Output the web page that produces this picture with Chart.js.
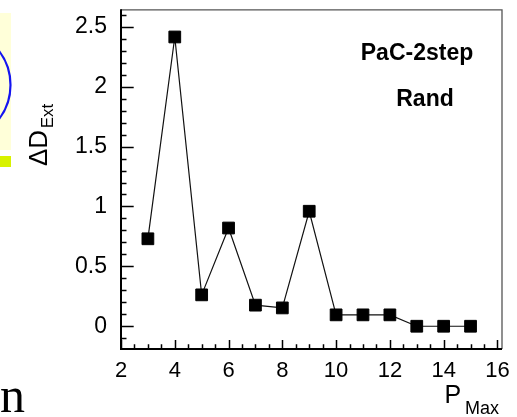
<!DOCTYPE html>
<html>
<head>
<meta charset="utf-8">
<script src="https://cdn.jsdelivr.net/npm/chart.js@4"></script>
<style>
  html, body { margin: 0; padding: 0; background: #fff; }
  #wrap { width: 517px; height: 417px; }
</style>
</head>
<body>
<div id="wrap"><canvas id="dextChart" width="517" height="417"></canvas></div>
<script>
// --- Data ---
const pMax = [3, 4, 5, 6, 7, 8, 9, 10, 11, 12, 13, 14, 15];
const dExt = [0.73, 2.415, 0.262, 0.82, 0.176, 0.153, 0.96, 0.095, 0.095, 0.095, 0, 0, 0];
const xTickLabels = [2, 4, 6, 8, 10, 12, 14, 16];
const yTickLabels = [0, 0.5, 1, 1.5, 2, 2.5];

const FONT = "'Liberation Sans', Arial, Helvetica, sans-serif";

// --- Frame, inward ticks, titles and the cut-off neighbour panel ---
const framePlugin = {
  id: 'frame',
  beforeDraw(chart) {
    const c = chart.ctx;
    c.save();
    // neighbour panel peeking in on the left
    c.fillStyle = '#ffffd9';
    c.fillRect(0, 13, 11, 137);
    c.beginPath();
    c.rect(0, 0, 13, 150);
    c.clip();
    c.strokeStyle = '#1414f0';
    c.lineWidth = 2.2;
    c.beginPath();
    c.arc(-45.5, 85, 56, 0, Math.PI * 2);
    c.stroke();
    c.restore();

    c.save();
    c.fillStyle = '#d8f200';
    c.fillRect(0, 156, 11, 11);
    c.fillStyle = '#000';
    c.font = "50px 'Liberation Serif', 'Times New Roman', serif";
    c.textBaseline = 'alphabetic';
    c.fillText('n', 0, 411.5);
    c.restore();
  },
  afterDraw(chart) {
    const c = chart.ctx;
    const { left, right, top, bottom } = chart.chartArea;
    const xs = chart.scales.x, ys = chart.scales.y;
    c.save();

    // top and right edges
    c.strokeStyle = '#555';
    c.lineWidth = 1.3;
    c.beginPath();
    c.moveTo(left, top + 0.5);
    c.lineTo(right, top + 0.5);
    c.lineTo(right, bottom);
    c.stroke();

    // axes
    c.strokeStyle = '#000';
    c.lineWidth = 2;
    c.beginPath();
    c.moveTo(left, top);
    c.lineTo(left, bottom);
    c.lineTo(right, bottom);
    c.stroke();

    // y ticks every 0.1, long at 0.5
    c.lineWidth = 1.5;
    c.beginPath();
    for (let i = -1; i <= 26; i++) {
      const v = i / 10;
      const py = Math.round(ys.getPixelForValue(v)) + 0.5;
      if (py < top || py > bottom) continue;
      const len = i % 5 === 0 ? 12.7 : 5.5;
      c.moveTo(left, py);
      c.lineTo(left + len, py);
    }
    // x ticks every 0.5, long at labelled values
    for (let i = 4; i <= 32; i++) {
      const v = i / 2;
      const px = Math.round(xs.getPixelForValue(v)) + 0.5;
      if (px < left || px > right) continue;
      const len = xTickLabels.includes(v) ? 9 : 4.7;
      c.moveTo(px, bottom);
      c.lineTo(px, bottom - len);
    }
    c.stroke();

    // y axis title: ΔD with subscript Ext
    c.fillStyle = '#000';
    c.save();
    c.translate(46.7, 166);
    c.rotate(-Math.PI / 2);
    c.font = '26px ' + FONT;
    c.textAlign = 'left';
    c.fillText('ΔD', 0, 0);
    const w = c.measureText('ΔD').width;
    c.font = '17px ' + FONT;
    c.fillText('Ext', w + 1.5, 6.6);
    c.restore();

    // x axis title: P with subscript Max
    c.font = '25px ' + FONT;
    c.fillText('P', 444.5, 402.7);
    c.font = '18px ' + FONT;
    c.fillText('Max', 465, 414.3);

    // label box
    c.font = 'bold 23px ' + FONT;
    c.textAlign = 'center';
    c.fillText('PaC-2step', 417, 59.5);
    c.fillText('Rand', 425, 106);

    c.restore();
  }
};

const ctx = document.getElementById('dextChart');

new Chart(ctx, {
  type: 'line',
  data: {
    datasets: [{
      data: pMax.map((p, i) => ({ x: p, y: dExt[i] })),
      borderColor: '#111',
      borderWidth: 1.2,
      backgroundColor: '#000',
      pointStyle: 'rect',
      pointRadius: 8.3,
      pointBorderWidth: 1,
      pointBorderColor: '#000',
      pointBackgroundColor: '#000',
      tension: 0,
      fill: false,
      clip: false
    }]
  },
  options: {
    responsive: false,
    animation: false,
    devicePixelRatio: 1,
    layout: { padding: { left: 0, right: 15, top: 4, bottom: 0 } },
    plugins: { legend: { display: false }, tooltip: { enabled: false } },
    scales: {
      x: {
        type: 'linear',
        min: 2,
        max: 16.17,
        grid: { display: false },
        border: { display: false },
        ticks: {
          color: '#000',
          font: { family: FONT, size: 22 },
          padding: 1,
          maxRotation: 0,
          autoSkip: false
        },
        afterBuildTicks: s => { s.ticks = xTickLabels.map(v => ({ value: v })); },
        afterFit: s => { s.height = 68; s.paddingLeft = 0; s.paddingRight = 0; }
      },
      y: {
        type: 'linear',
        min: -0.19,
        max: 2.646,
        grid: { display: false },
        border: { display: false },
        ticks: {
          color: '#000',
          font: { family: FONT, size: 23 },
          padding: 6,
          autoSkip: false,
          callback: v => String(v)
        },
        afterBuildTicks: s => { s.ticks = yTickLabels.map(v => ({ value: v })); },
        afterFit: s => { s.width = 121; s.paddingTop = 0; s.paddingBottom = 0; }
      }
    }
  },
  plugins: [framePlugin]
});
</script>
</body>
</html>
